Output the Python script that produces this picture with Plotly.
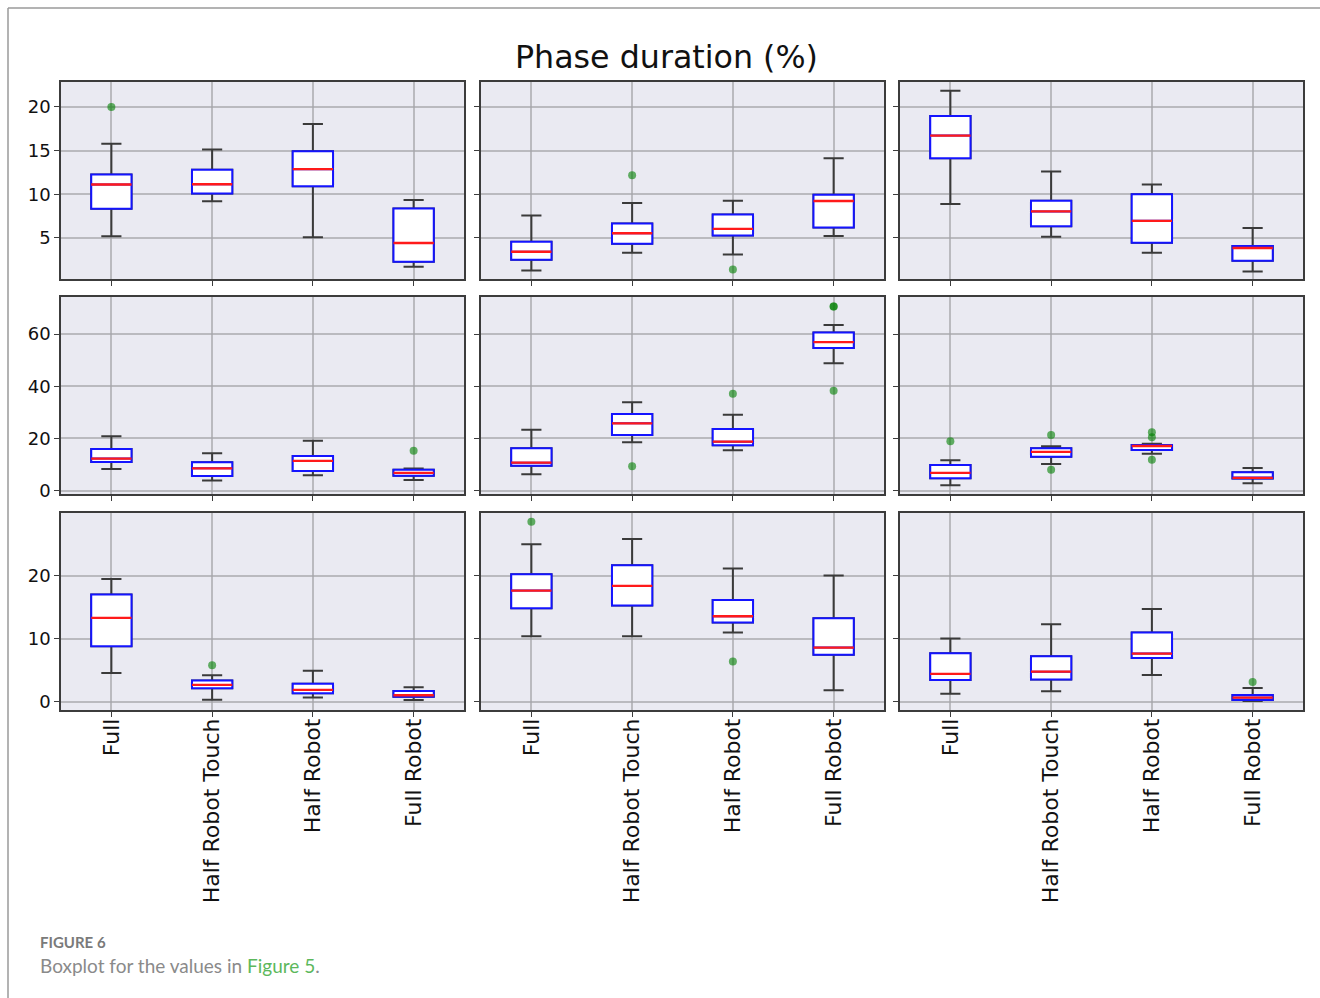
import plotly.graph_objects as go

# Conditions shown on every panel
categories = ["Full", "Half Robot Touch", "Half Robot", "Full Robot"]
positions = [1, 2, 3, 4]

# Box statistics per panel (row-major 3x3), one value per condition
whisker_low = [
    [5.19, 9.19, 5.08, 1.69],
    [1.27, 3.31, 3.12, 5.23],
    [8.88, 5.15, 3.31, 1.15],
    [8.30, 3.83, 5.87, 4.09],
    [6.26, 18.51, 15.45, 48.77],
    [2.04, 10.21, 14.17, 2.81],
    [4.59, 0.37, 0.69, 0.32],
    [10.40, 10.40, 10.98, 1.85],
    [1.32, 1.69, 4.27, 0.16],
]
quartile_1 = [
    [8.35, 10.08, 10.92, 2.27],
    [2.50, 4.35, 5.27, 6.19],
    [14.12, 6.35, 4.46, 2.38],
    [10.98, 5.62, 7.53, 5.74],
    [9.57, 21.32, 17.36, 54.64],
    [4.72, 13.02, 15.57, 4.60],
    [8.81, 2.16, 1.37, 0.84],
    [14.83, 15.25, 12.56, 7.49],
    [3.48, 3.54, 6.97, 0.32],
]
medians = [
    [11.12, 11.15, 12.88, 4.42],
    [3.42, 5.54, 6.04, 9.23],
    [16.73, 8.04, 6.96, 3.85],
    [12.26, 8.55, 11.36, 6.77],
    [10.72, 25.79, 18.77, 56.94],
    [6.77, 14.81, 17.10, 4.85],
    [13.30, 2.69, 1.90, 1.06],
    [17.63, 18.36, 13.56, 8.60],
    [4.43, 4.80, 7.65, 0.69],
]
quartile_3 = [
    [12.27, 12.80, 14.92, 8.38],
    [4.58, 6.65, 7.69, 9.96],
    [18.96, 9.27, 10.00, 4.08],
    [15.96, 10.85, 13.28, 8.04],
    [16.20, 29.36, 23.62, 60.64],
    [9.83, 16.21, 17.49, 7.02],
    [16.99, 3.38, 2.90, 1.74],
    [20.21, 21.64, 16.15, 13.25],
    [7.70, 7.23, 10.98, 1.11],
]
whisker_high = [
    [15.80, 15.12, 18.04, 9.35],
    [7.58, 9.00, 9.27, 14.12],
    [21.85, 12.62, 11.12, 6.15],
    [20.80, 14.30, 19.15, 8.43],
    [23.36, 33.83, 29.11, 63.45],
    [11.62, 16.98, 18.00, 8.68],
    [19.47, 4.22, 4.96, 2.32],
    [24.96, 25.80, 21.10, 20.00],
    [10.03, 12.30, 14.72, 2.22],
]
outliers = [
    [[20.0], [], [], []],
    [[], [12.19], [1.38], []],
    [[], [], [], []],
    [[], [], [], [15.32]],
    [[], [9.32], [37.15], [70.6, 70.6, 38.3]],
    [[18.9], [21.32, 8.04], [22.34, 20.43, 11.87], []],
    [[], [5.8], [], []],
    [[28.5], [], [6.39], []],
    [[], [], [], [3.17]],
]

# Shared y scale per row
row_ranges = [[0.30, 22.86], [-1.3, 74.2], [-1.27, 29.9]]
row_ticks = [[5, 10, 15, 20], [0, 20, 40, 60], [0, 10, 20]]

W, H = 1320, 998
col_px = [(61, 464), (481, 884), (900, 1303)]
row_px = [(82, 279), (297, 494), (513, 710)]

BG = "#EAEAF2"
GRID = "rgba(165,165,170,0.7)"
FRAME = "#3c3c3c"
WHISKER = "#3a3a3a"
BOX_EDGE = "#1414ff"
MEDIAN = "#ff1a1a"
FLIER = "rgba(0,128,0,0.6)"
FONT = "DejaVu Sans"

fig = go.Figure()
layout = {}

for p in range(9):
    r, c = divmod(p, 3)
    idx = p + 1
    xa = "x" if idx == 1 else f"x{idx}"
    ya = "y" if idx == 1 else f"y{idx}"

    # Whiskers and caps
    fig.add_trace(go.Box(
        x=positions, q1=quartile_1[p], median=medians[p], q3=quartile_3[p],
        lowerfence=whisker_low[p], upperfence=whisker_high[p],
        width=0.4, whiskerwidth=0.5, boxpoints=False,
        fillcolor="white", line=dict(color=WHISKER, width=2),
        xaxis=xa, yaxis=ya, showlegend=False, hoverinfo="skip",
    ))
    # Blue inter-quartile box
    fig.add_trace(go.Box(
        x=positions, q1=quartile_1[p], median=medians[p], q3=quartile_3[p],
        lowerfence=quartile_1[p], upperfence=quartile_3[p],
        width=0.4, whiskerwidth=0, boxpoints=False,
        fillcolor="white", line=dict(color=BOX_EDGE, width=2),
        xaxis=xa, yaxis=ya, showlegend=False, hoverinfo="skip",
    ))
    # Red median line, drawn over the box's own median
    fig.add_trace(go.Box(
        x=positions, q1=medians[p], median=medians[p], q3=medians[p],
        lowerfence=medians[p], upperfence=medians[p],
        width=0.4, whiskerwidth=0, boxpoints=False,
        fillcolor="rgba(0,0,0,0)", line=dict(color=MEDIAN, width=2.3),
        xaxis=xa, yaxis=ya, showlegend=False, hoverinfo="skip",
    ))
    # Outlying points
    ox, oy = [], []
    for k, vals in enumerate(outliers[p]):
        for v in vals:
            ox.append(positions[k])
            oy.append(v)
    if ox:
        fig.add_trace(go.Scatter(
            x=ox, y=oy, mode="markers",
            marker=dict(color=FLIER, size=8, line=dict(width=0)),
            xaxis=xa, yaxis=ya, showlegend=False, hoverinfo="skip",
        ))

    x0, x1 = col_px[c]
    y0, y1 = row_px[r]
    xkey = "xaxis" if idx == 1 else f"xaxis{idx}"
    ykey = "yaxis" if idx == 1 else f"yaxis{idx}"
    layout[xkey] = dict(
        domain=[x0 / W, x1 / W], anchor=ya, range=[0.5, 4.5],
        tickmode="array", tickvals=positions, ticktext=categories,
        showticklabels=(r == 2), tickangle=-90, ticklabelstandoff=-7,
        tickfont=dict(family=FONT, size=22, color="#111"),
        ticks="outside", ticklen=5, tickwidth=1.3, tickcolor=FRAME,
        showgrid=True, gridcolor=GRID, gridwidth=1.5,
        showline=True, linecolor=FRAME, linewidth=1.5, mirror=True,
        zeroline=False, automargin=False,
    )
    layout[ykey] = dict(
        domain=[1 - y1 / H, 1 - y0 / H], anchor=xa, range=row_ranges[r],
        tickmode="array", tickvals=row_ticks[r],
        showticklabels=(c == 0),
        tickfont=dict(family=FONT, size=18, color="#111"),
        ticks="outside", ticklen=5, tickwidth=1.3, tickcolor=FRAME,
        showgrid=True, gridcolor=GRID, gridwidth=1.5,
        showline=True, linecolor=FRAME, linewidth=1.5, mirror=True,
        zeroline=False, automargin=False,
    )

fig.update_layout(
    width=W, height=H, autosize=False,
    margin=dict(l=0, r=0, t=0, b=0, pad=0),
    paper_bgcolor="white", plot_bgcolor=BG,
    boxmode="overlay",
    **layout,
)

# Panel title, caption and page frame
fig.add_annotation(
    text="Phase duration (%)", x=666 / W, y=1 - 57 / H,
    xref="paper", yref="paper", xanchor="center", yanchor="middle",
    showarrow=False, font=dict(family=FONT, size=31.7, color="#111"),
)
fig.add_annotation(
    text="<b>FIGURE 6</b>", x=38 / W, y=1 - 942 / H,
    xref="paper", yref="paper", xanchor="left", yanchor="middle",
    showarrow=False, font=dict(family="Lato", size=15, color="#7a7a7a"),
)
fig.add_annotation(
    text="Boxplot for the values in <span style='color:#5cb85c'>Figure 5</span>.",
    x=38 / W, y=1 - 965 / H,
    xref="paper", yref="paper", xanchor="left", yanchor="middle",
    showarrow=False, font=dict(family="Lato", size=19, color="#8a8a8a"),
)
fig.add_shape(type="line", xref="paper", yref="paper",
              x0=8 / W, x1=1.0, y0=1 - 8 / H, y1=1 - 8 / H,
              line=dict(color="#9a9a9a", width=1.5))
fig.add_shape(type="line", xref="paper", yref="paper",
              x0=8 / W, x1=8 / W, y0=0, y1=1 - 8 / H,
              line=dict(color="#9a9a9a", width=1.5))

fig.write_html("out.html", config={"responsive": False})
